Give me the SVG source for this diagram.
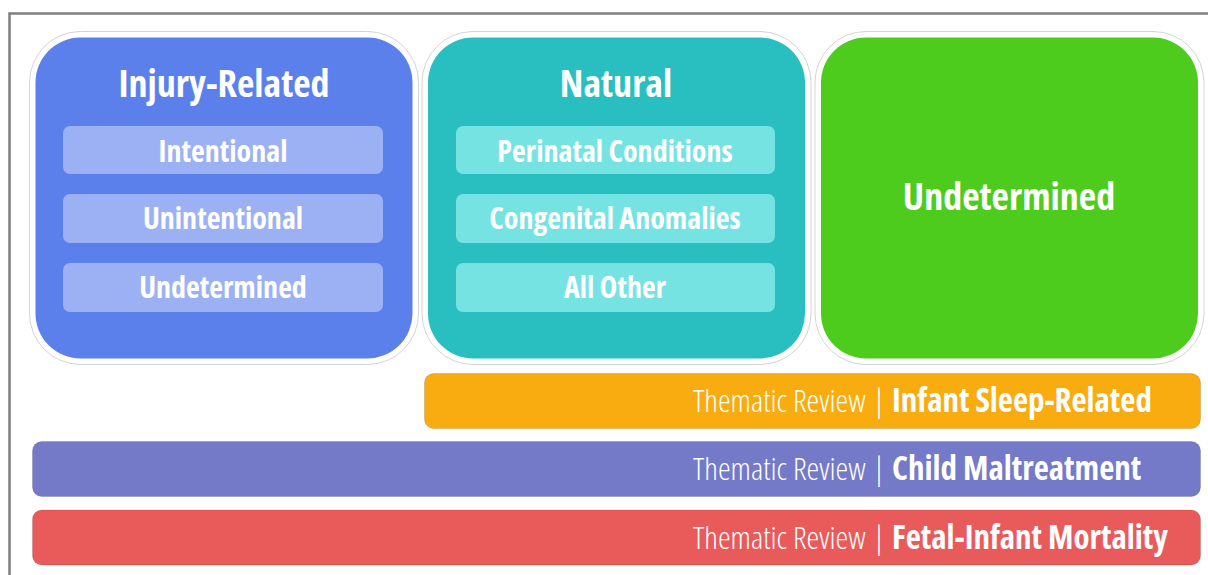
<svg xmlns="http://www.w3.org/2000/svg" width="1208" height="575" viewBox="0 0 1208 575">
  <style>
    text { font-family: "Open Sans", "DejaVu Sans", sans-serif; font-stretch: condensed; fill: #ffffff; text-anchor: middle; }
    .title { font-size: 38px; font-weight: 700; }
    .sub { font-size: 30px; font-weight: 700; }
    .ring { fill: #ffffff; stroke: #d4d4d4; stroke-width: 1; }
    .bar { stroke: rgba(0,0,0,0.12); stroke-width: 1; }
    .light { font-weight: 300; }
    .bold { font-weight: 700; font-size: 33px; }
    .bartext { font-size: 32px; text-anchor: start; }
  </style>

  <!-- outer frame -->
  <rect x="0" y="0" width="1208" height="575" fill="#ffffff"/>
  <path d="M9.5 580 V13.5 H1215" fill="none" stroke="#7f7f7f" stroke-width="2.5"/>

  <!-- Injury-Related category -->
  <g id="injury-related">
    <rect class="ring" x="29.5" y="31.5" width="389" height="333" rx="51"/>
    <rect x="35.5" y="37.5" width="377" height="321" rx="45" fill="#5b80ec"/>
    <text class="title" x="224" y="97">Injury-Related</text>
    <rect x="63" y="126" width="320" height="48" rx="7" fill="#9cb1f4"/>
    <text class="sub" x="223" y="162">Intentional</text>
    <rect x="63" y="194" width="320" height="49" rx="7" fill="#9cb1f4"/>
    <text class="sub" x="223" y="229">Unintentional</text>
    <rect x="63" y="263" width="320" height="49" rx="7" fill="#9cb1f4"/>
    <text class="sub" x="223" y="298">Undetermined</text>
  </g>

  <!-- Natural category -->
  <g id="natural">
    <rect class="ring" x="422" y="31.5" width="389" height="333" rx="51"/>
    <rect x="428" y="37.5" width="377" height="321" rx="45" fill="#29bfc0"/>
    <text class="title" x="616" y="97">Natural</text>
    <rect x="456" y="126" width="319" height="48" rx="7" fill="#76e3e3"/>
    <text class="sub" x="615" y="162">Perinatal Conditions</text>
    <rect x="456" y="194" width="319" height="49" rx="7" fill="#76e3e3"/>
    <text class="sub" x="615" y="229">Congenital Anomalies</text>
    <rect x="456" y="263" width="319" height="49" rx="7" fill="#76e3e3"/>
    <text class="sub" x="615" y="298">All Other</text>
  </g>

  <!-- Undetermined category -->
  <g id="undetermined">
    <rect class="ring" x="815" y="31.5" width="389" height="333" rx="51"/>
    <rect x="821" y="37.5" width="377" height="321" rx="45" fill="#4ecc1e"/>
    <text class="title" x="1009" y="210">Undetermined</text>
  </g>

  <!-- Thematic review bars -->
  <g id="review-sleep">
    <rect class="bar" x="424.5" y="373.5" width="776" height="55" rx="9" fill="#f9ac10"/>
    <text class="bartext" x="693" y="412"><tspan class="light">Thematic Review</tspan><tspan class="light" dx="1"> | </tspan><tspan class="bold" dx="1">Infant Sleep-Related</tspan></text>
  </g>
  <g id="review-maltreatment">
    <rect class="bar" x="32.5" y="441.5" width="1168" height="55" rx="9" fill="#7479c8"/>
    <text class="bartext" x="693" y="480"><tspan class="light">Thematic Review</tspan><tspan class="light" dx="1"> | </tspan><tspan class="bold" dx="1">Child Maltreatment</tspan></text>
  </g>
  <g id="review-fimr">
    <rect class="bar" x="32.5" y="510" width="1168" height="55" rx="9" fill="#e95a5a"/>
    <text class="bartext" x="693" y="549"><tspan class="light">Thematic Review</tspan><tspan class="light" dx="1"> | </tspan><tspan class="bold" dx="1">Fetal-Infant Mortality</tspan></text>
  </g>

  <!-- no connectors in this chart -->
  <g id="connectors"/>
</svg>
